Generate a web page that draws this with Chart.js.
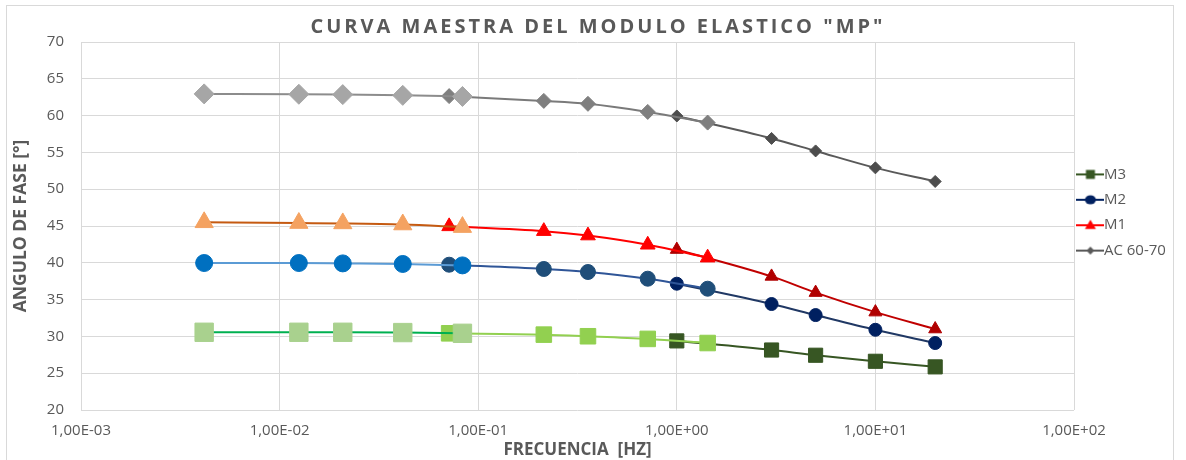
<!DOCTYPE html>
<html>
<head>
<meta charset="utf-8">
<script src="https://cdn.jsdelivr.net/npm/chart.js@4.4.1/dist/chart.umd.min.js"></script>
<style>
  html, body { margin: 0; padding: 0; background: #ffffff; }
  #wrap { position: relative; width: 1186px; height: 460px; overflow: hidden; }
  #frame { position: absolute; left: 6px; top: 5px; width: 1168px; height: 480px; border: 1px solid #D9D9D9; box-sizing: border-box; pointer-events: none; }
  canvas { position: absolute; left: 0; top: 0; }
</style>
</head>
<body>
<div id="wrap">
  <canvas id="c" width="1186" height="460"></canvas>
  <div id="frame"></div>
</div>
<script>
// ---- Data ----
const chartTitle = 'CURVA MAESTRA DEL MODULO ELASTICO "MP"';
const xAxisTitle = 'FRECUENCIA  [HZ]';
const yAxisTitle = 'ANGULO DE FASE [°]';

const xTickValues = [0.001, 0.01, 0.1, 1, 10, 100];
const xTickLabels = ['1,00E-03', '1,00E-02', '1,00E-01', '1,00E+00', '1,00E+01', '1,00E+02'];

// frequencies of the three shifted groups of each curve
const freqLow  = [0.00417, 0.0125, 0.0208, 0.0417, 0.0833];
const freqMid  = [0.0714, 0.214, 0.357, 0.714, 1.43];
const freqHigh = [1, 3, 5, 10, 20];

const acLow  = [62.95, 62.9, 62.85, 62.75, 62.6];
const acMid  = [62.65, 62.0, 61.6, 60.5, 59.05];
const acHigh = [59.95, 56.9, 55.2, 52.9, 51.05];

const m1Low  = [45.5, 45.4, 45.35, 45.2, 44.85];
const m1Mid  = [44.95, 44.3, 43.7, 42.45, 40.7];
const m1High = [41.8, 38.15, 35.95, 33.3, 31.0];

const m2Low  = [39.97, 39.97, 39.92, 39.84, 39.65];
const m2Mid  = [39.74, 39.16, 38.75, 37.84, 36.48];
const m2High = [37.16, 34.4, 32.9, 30.9, 29.1];

const m3Low  = [30.56, 30.56, 30.56, 30.52, 30.42];
const m3Mid  = [30.42, 30.24, 30.02, 29.66, 29.1];
const m3High = [29.39, 28.15, 27.44, 26.62, 25.86];

const legendNames = ['M3', 'M2', 'M1', 'AC 60-70'];

// ---- helpers ----
function pts(xs, ys) { return xs.map((x, i) => ({ x: x, y: ys[i] })); }

function ds(label, xs, ys, line, marker, style, radius, order) {
  return {
    label: label,
    data: pts(xs, ys),
    borderColor: line,
    backgroundColor: marker,
    borderWidth: 2,
    pointStyle: style,
    pointRadius: radius,
    pointHoverRadius: radius,
    pointBackgroundColor: marker,
    pointBorderColor: marker,
    pointBorderWidth: 1,
    cubicInterpolationMode: 'monotone',
    order: order
  };
}

const datasets = [
  // AC 60-70
  ds('AC 60-70 a', freqHigh, acHigh, '#595959', '#4D4D4D', 'rectRot', 6, 2),
  ds('AC 60-70 b', freqMid,  acMid,  '#7A7A7A', '#7F7F7F', 'rectRot', 7.5, 1),
  ds('AC 60-70 c', freqLow,  acLow,  '#8C8C8C', '#A6A6A6', 'rectRot', 10, 0),
  // M1
  ds('M1 a', freqHigh, m1High, '#C00000', '#B00000', 'triangle', 7.5, 2),
  ds('M1 b', freqMid,  m1Mid,  '#FF0000', '#FF0000', 'triangle', 8.5, 1),
  ds('M1 c', freqLow,  m1Low,  '#C55A11', '#F4A261', 'triangle', 10.5, 0),
  // M2
  ds('M2 a', freqHigh, m2High, '#203864', '#002060', 'circle', 6.5, 2),
  ds('M2 b', freqMid,  m2Mid,  '#2F5597', '#1F4E79', 'circle', 7.5, 1),
  ds('M2 c', freqLow,  m2Low,  '#5B9BD5', '#0070C0', 'circle', 8.5, 0),
  // M3
  ds('M3 a', freqHigh, m3High, '#375623', '#375623', 'rect', 10, 2),
  ds('M3 b', freqMid,  m3Mid,  '#92D050', '#92D050', 'rect', 11, 1),
  ds('M3 c', freqLow,  m3Low,  '#00B050', '#A9D18E', 'rect', 13, 0)
];

// legend icons: line with marker (Excel style)
function legendIcon(lineColor, markerColor, style, size) {
  const c = document.createElement('canvas');
  c.width = 28; c.height = 16;
  const g = c.getContext('2d');
  g.strokeStyle = lineColor; g.lineWidth = 2;
  g.beginPath(); g.moveTo(0, 8); g.lineTo(28, 8); g.stroke();
  g.fillStyle = markerColor;
  g.beginPath();
  const cx = 14, cy = 8;
  if (style === 'rect') {
    g.rect(cx - size, cy - size, 2 * size, 2 * size);
  } else if (style === 'circle') {
    g.ellipse(cx, cy, size + 1, size, 0, 0, Math.PI * 2);
  } else if (style === 'triangle') {
    g.moveTo(cx, cy - size); g.lineTo(cx + size, cy + size * 0.7); g.lineTo(cx - size, cy + size * 0.7); g.closePath();
  } else {
    g.moveTo(cx, cy - size); g.lineTo(cx + size, cy); g.lineTo(cx, cy + size); g.lineTo(cx - size, cy); g.closePath();
  }
  g.fill();
  return c;
}
const legendIcons = [
  legendIcon('#375623', '#375623', 'rect', 4.5),
  legendIcon('#002060', '#002060', 'circle', 4.5),
  legendIcon('#FF0000', '#FF0000', 'triangle', 5.5),
  legendIcon('#595959', '#595959', 'rectRot', 4)
];
const legendDatasetIdx = [9, 6, 3, 0];

// title with letter spacing + fixed legend width
const titlePlugin = {
  id: 'excelTitle',
  beforeLayout(chart) {
    const lg = chart.legend;
    if (lg && !lg._fixedWidth) {
      const orig = lg.fit.bind(lg);
      lg.fit = function () { orig(); this.width = 112; };
      lg._fixedWidth = true;
    }
  },
  afterDraw(chart) {
    const ctx = chart.ctx;
    ctx.save();
    ctx.font = 'bold 20px "Open Sans"';
    try { ctx.letterSpacing = '3px'; } catch (e) {}
    ctx.fillStyle = '#595959';
    ctx.textAlign = 'center';
    ctx.textBaseline = 'middle';
    ctx.fillText(chartTitle, chart.width / 2 + 5, 27);
    ctx.restore();
  }
};

const textColor = '#595959';
const gridColor = '#D9D9D9';

new Chart(document.getElementById('c'), {
  type: 'line',
  data: { datasets: datasets },
  plugins: [titlePlugin],
  options: {
    responsive: false,
    animation: false,
    events: [],
    layout: { padding: { top: 42, left: 6, right: 0, bottom: 0 } },
    plugins: {
      title: { display: false },
      tooltip: { enabled: false },
      legend: {
        display: true,
        position: 'right',
        align: 'start',
        fullSize: false,
        title: { display: true, text: '', font: { size: 10, lineHeight: 1 }, padding: { top: 104.5, bottom: 0 } },
        labels: {
          usePointStyle: true,
          boxWidth: 12,
          padding: 10.4,
          color: textColor,
          font: { family: '"Open Sans"', size: 15 },
          generateLabels: function () {
            return legendNames.map((n, i) => ({
              text: n,
              pointStyle: legendIcons[i],
              datasetIndex: legendDatasetIdx[i],
              hidden: false,
              fontColor: textColor,
              lineWidth: 0,
              strokeStyle: 'rgba(0,0,0,0)',
              fillStyle: 'rgba(0,0,0,0)'
            }));
          }
        }
      }
    },
    scales: {
      x: {
        type: 'logarithmic',
        min: 0.001,
        max: 100,
        afterBuildTicks: function (s) { s.ticks = xTickValues.map(v => ({ value: v })); },
        afterFit: function (s) { s.height = 50; },
        ticks: {
          autoSkip: false,
          maxRotation: 0,
          padding: 12,
          color: textColor,
          font: { family: '"Open Sans"', size: 15 },
          callback: function (v) {
            const i = xTickValues.findIndex(t => Math.abs(Math.log10(t) - Math.log10(v)) < 1e-6);
            return i >= 0 ? xTickLabels[i] : '';
          }
        },
        grid: { color: gridColor, lineWidth: 1, drawTicks: false },
        border: { display: false },
        title: {
          display: true,
          text: xAxisTitle,
          color: textColor,
          font: { family: '"Open Sans"', size: 17, weight: 'bold' },
          padding: { top: 0, bottom: 0 }
        }
      },
      y: {
        type: 'linear',
        min: 20,
        max: 70,
        afterFit: function (s) { s.width = 75; },
        ticks: {
          stepSize: 5,
          padding: 17,
          color: textColor,
          font: { family: '"Open Sans"', size: 15 }
        },
        grid: { color: gridColor, lineWidth: 1, drawTicks: false },
        border: { display: false },
        title: {
          display: true,
          text: yAxisTitle,
          color: textColor,
          font: { family: '"Open Sans"', size: 17.5, weight: 'bold' },
          padding: { top: 5, bottom: 0 }
        }
      }
    }
  }
});
</script>
</body>
</html>
